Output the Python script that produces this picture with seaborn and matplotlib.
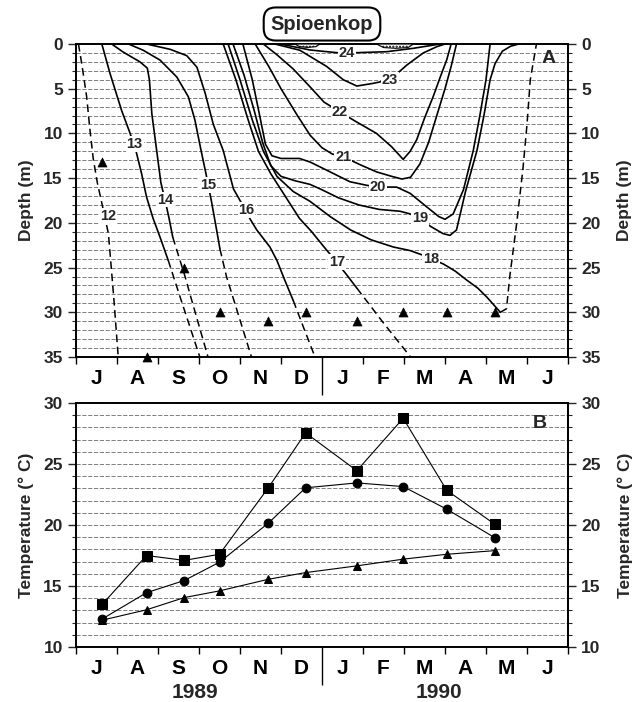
import numpy as np
import pandas as pd
import matplotlib
matplotlib.use("Agg")
import matplotlib.pyplot as plt
import matplotlib.transforms as mtransforms
from matplotlib.ticker import MultipleLocator, FixedLocator
import seaborn as sns

sns.set_style("ticks")
plt.rcParams['font.family'] = ['Liberation Sans', 'DejaVu Sans']
plt.rcParams['font.weight'] = 'bold'
plt.rcParams['axes.labelweight'] = 'bold'

# ---------------- data ----------------
month_labels = ['J', 'A', 'S', 'O', 'N', 'D', 'J', 'F', 'M', 'A', 'M', 'J']
year_labels = ['1989', '1990']

# sampling dates (months after 1 July 1989)
sample_month = [0.64, 1.72, 2.64, 3.50, 4.69, 5.60, 6.85, 7.98, 9.04, 10.22]
# deepest sampling depth (m) on each date (panel A triangles)
sample_depth = [13.2, 35, 25, 30, 31, 30, 31, 30, 30, 30]

# panel B temperatures (deg C)
temp_max = [13.5, 17.5, 17.1, 17.6, 23.05, 27.55, 24.45, 28.75, 22.85, 20.05]
temp_mean = [12.3, 14.45, 15.45, 16.95, 20.15, 23.05, 23.45, 23.15, 21.3, 18.95]
temp_min = [12.2, 13.05, 14.05, 14.6, 15.55, 16.1, 16.65, 17.2, 17.6, 17.9]

# isotherms (month, depth); *_dm/*_dd = interpolated (dashed) parts
iso12_dm = [0.06, 0.14, 0.26, 0.34, 0.42, 0.52, 0.63, 0.79, 0.86, 0.92, 1.03]
iso12_dd = [0, 2.2, 5.9, 9.6, 12.8, 15.5, 17.8, 21.2, 25, 28.3, 35]

iso13_m = [0.63, 0.83, 1.11, 1.32, 1.46, 1.6, 1.72, 1.88, 2.05, 2.25]
iso13_d = [0, 3.3, 7.4, 10, 11.9, 14.5, 17.1, 19.5, 21.6, 24.2]
iso13_dm = [2.25, 2.54, 3.02]
iso13_dd = [24.2, 28.3, 35]

iso14_m = [0.87, 1.15, 1.56, 1.74, 1.79, 1.85, 1.97, 2.07, 2.18, 2.27, 2.36]
iso14_d = [0, 0.9, 2, 2.7, 4, 7.8, 12, 15.5, 17.6, 19.5, 21.6]
iso14_dm = [2.36, 2.66, 2.8, 3.22]
iso14_dd = [21.6, 26, 28.3, 35]

iso15_m = [1.28, 1.64, 2.05, 2.46, 2.74, 2.9, 3.05, 3.17, 3.3, 3.43, 3.51]
iso15_d = [0, 0.7, 1.8, 3.7, 5.9, 8.5, 11.9, 14.5, 17.5, 20.8, 22.9]
iso15_dm = [3.51, 3.67, 3.84, 4.28]
iso15_dd = [22.9, 26, 28.5, 35]

iso16_m = [1.72, 2.3, 2.7, 2.95, 3.15, 3.35, 3.59, 3.84, 4.05, 4.25, 4.41, 4.73, 4.9, 5.1, 5.3]
iso16_d = [0, 0.6, 1.3, 2.6, 5.5, 9, 11.9, 16.2, 17.9, 19.6, 20.8, 22.7, 24.2, 26.5, 28.7]
iso16_dm = [5.3, 5.55, 5.83]
iso16_dd = [28.7, 31.7, 35]

iso17_m = [3.59, 3.9, 4.2, 4.45, 4.75, 5.1, 5.45, 5.75, 6.05, 6.36, 6.6, 6.85]
iso17_d = [0, 4, 8.5, 12, 14.5, 17, 19.5, 21, 22.7, 24.4, 25.8, 27.3]
iso17_dm = [6.85, 7.5, 8.16]
iso17_dd = [27.3, 31.2, 35]

iso18_m = [3.71, 4.0, 4.3, 4.57, 4.9, 5.3, 5.71, 6.2, 6.7, 7.2, 7.74, 8.15, 8.45, 8.66,
           8.96, 9.25, 9.53, 9.8, 10.02, 10.35]
iso18_d = [0, 4, 8.5, 12, 14.8, 16.5, 17.6, 19.3, 20.8, 21.9, 22.7, 23.1, 23.6, 24,
           24.6, 25.4, 26.4, 27.3, 28.3, 30]
iso18_dm = [10.35, 10.5, 10.58, 10.75, 10.9, 11.0, 11.08, 11.23]
iso18_dd = [30, 29.6, 26, 20, 14, 9, 4, 0]

iso19_m = [3.83, 4.1, 4.35, 4.55, 4.75, 5.0, 5.35, 5.71, 6.0, 6.4, 6.9, 7.4, 7.9, 8.15,
           8.39, 8.65, 8.95, 9.12, 9.28, 9.5, 9.78, 9.95, 10.1, 10.22, 10.4, 10.6, 10.8]
iso19_d = [0, 3.5, 7.5, 11, 13.6, 14.8, 15.3, 15.7, 16.3, 17.2, 18.0, 18.5, 18.7, 19.0,
           19.5, 20.4, 21.2, 21.4, 20.8, 16.5, 11.9, 8, 4, 2.2, 0.8, 0.25, 0]

iso20_m = [4.07, 4.3, 4.48, 4.62, 4.78, 5.0, 5.45, 5.71, 6.11, 6.68, 7.09, 7.37, 7.82,
           8.15, 8.55, 8.85, 9.0, 9.2, 9.45, 9.69, 9.85, 10.0, 10.1]
iso20_d = [0, 4, 8, 11.2, 12.5, 12.8, 12.8, 13.2, 14.1, 15.4, 15.8, 16, 16,
           16.7, 18.2, 19.3, 19.6, 19, 16.3, 11.9, 8, 4, 0]

iso21_m = [4.37, 4.7, 5.0, 5.4, 5.71, 6.0, 6.25, 6.52, 6.93, 7.33, 7.7, 7.95, 8.16,
           8.39, 8.6, 8.8, 9.0, 9.15, 9.28]
iso21_d = [0, 2.5, 5, 8, 10.2, 11.6, 12.3, 12.6, 13.5, 14.3, 14.8, 15.1, 14.9,
           13.4, 11, 8, 5, 2.5, 0]

iso22_m = [4.57, 4.9, 5.3, 5.71, 6.05, 6.44, 6.8, 7.33, 7.7, 7.98, 8.15, 8.31, 8.5,
           8.71, 8.9, 9.04, 9.15]
iso22_d = [0, 1.2, 2.8, 4.8, 6.5, 7.6, 8.6, 10, 11.5, 12.9, 12.0, 10.7, 8.3,
           5.9, 3.5, 1.8, 0]

iso23_m = [4.85, 5.46, 6.11, 6.52, 6.85, 7.25, 7.66, 8.07, 8.47, 8.8, 9.0]
iso23_d = [0, 0.7, 2.5, 4.0, 4.7, 4.4, 4.0, 2.35, 1.0, 0.3, 0]

iso24_m = [4.98, 5.71, 6.36, 6.85, 7.58, 8.23, 8.88]
iso24_d = [0, 0.67, 0.97, 0.97, 0.86, 0.48, 0]

# warm surface patches (hatched)
patch1_m = [5.34, 5.45, 5.65, 5.85, 5.95]
patch1_d = [0, 0.3, 0.38, 0.3, 0]
patch2_m = [7.33, 7.5, 7.8, 8.1, 8.23]
patch2_d = [0, 0.4, 0.48, 0.4, 0]

# isotherm labels
iso_label_val = [12, 13, 14, 15, 16, 17, 18, 19, 20, 21, 22, 23, 24]
iso_label_m = [0.79, 1.43, 2.18, 3.23, 4.16, 6.36, 8.66, 8.39, 7.37, 6.52, 6.44, 7.66, 6.6]
iso_label_d = [19.2, 11.2, 17.4, 15.8, 18.6, 24.4, 24.0, 19.5, 16.0, 12.6, 7.6, 4.0, 0.97]

# ---------------- figure ----------------
fig = plt.figure(figsize=(6.38, 7.02), dpi=100)
axA = fig.add_axes([76 / 638, 1 - 357 / 702, 492 / 638, 313 / 702])
axB = fig.add_axes([76 / 638, 1 - 647 / 702, 492 / 638, 244 / 702])

grid_kw = dict(color='#6a6a6a', lw=0.6, ls=(0, (5, 2)))
line_col = 'black'

solid_sets = [(iso13_m, iso13_d), (iso14_m, iso14_d), (iso15_m, iso15_d),
              (iso16_m, iso16_d), (iso17_m, iso17_d), (iso18_m, iso18_d),
              (iso19_m, iso19_d), (iso20_m, iso20_d), (iso21_m, iso21_d),
              (iso22_m, iso22_d), (iso23_m, iso23_d), (iso24_m, iso24_d)]
dashed_sets = [(iso12_dm, iso12_dd), (iso13_dm, iso13_dd), (iso14_dm, iso14_dd),
               (iso15_dm, iso15_dd), (iso16_dm, iso16_dd), (iso17_dm, iso17_dd),
               (iso18_dm, iso18_dd)]

for xm, yd in solid_sets:
    sns.lineplot(x=xm, y=yd, sort=False, estimator=None, color=line_col,
                 lw=1.2, ax=axA, zorder=3)
for xm, yd in dashed_sets:
    sns.lineplot(x=xm, y=yd, sort=False, estimator=None, color=line_col,
                 lw=1.1, ax=axA, zorder=3, linestyle=(0, (5, 3)))

for pm, pd_ in [(patch1_m, patch1_d), (patch2_m, patch2_d)]:
    axA.fill(pm, pd_, facecolor='white', edgecolor='black', hatch='.....',
             lw=0.8, zorder=3)

for v, m, d in zip(iso_label_val, iso_label_m, iso_label_d):
    axA.text(m, d, str(v), ha='center', va='center', fontsize=10.5,
             fontweight='bold', zorder=5,
             bbox=dict(fc='white', ec='none', pad=0.6))

sns.scatterplot(x=sample_month, y=sample_depth, marker='^', color='black',
                s=42, edgecolor='black', ax=axA, zorder=6, clip_on=False)

axA.set_xlim(0, 12)
axA.set_ylim(35, 0)

# panel B
for series, mk, ms in [(temp_max, 's', 6.5), (temp_mean, 'o', 6.3), (temp_min, '^', 6.3)]:
    sns.lineplot(x=sample_month, y=series, marker=mk, markersize=ms, color='black',
                 markeredgecolor='black', lw=0.8, ax=axB, zorder=4, clip_on=False)
axB.set_xlim(0, 12)
axB.set_ylim(10, 30)

# common axes styling
for ax, ymaj, ymin_, lab in [(axA, np.arange(0, 36, 5), np.arange(0, 36, 1), 'Depth (m)'),
                             (axB, np.arange(10, 31, 5), np.arange(10, 31, 1), 'Temperature (° C)')]:
    ax.set_yticks(ymaj)
    ax.yaxis.set_minor_locator(FixedLocator(ymin_))
    ax.set_xticks(np.arange(0, 13, 1))
    ax.set_xticks(np.arange(0.5, 12, 1), minor=True)
    ax.set_xticklabels([])
    ax.set_xticklabels(month_labels, minor=True)
    ax.grid(False)
    ax.grid(True, which='both', axis='y', **grid_kw)
    ax.set_axisbelow(True)
    for s in ax.spines.values():
        s.set_visible(True)
        s.set_linewidth(1.4)
        s.set_color('black')
    ax.tick_params(axis='x', which='major', length=5, width=1.0, direction='out',
                   colors='black')
    ax.tick_params(axis='x', which='minor', length=0, pad=9, labelsize=15,
                   labelcolor='black')
    ax.tick_params(axis='y', which='major', length=6, width=1.0, direction='out',
                   labelsize=12.5, left=True, right=False)
    ax.tick_params(axis='y', which='minor', length=3, width=0.8, direction='out',
                   left=True, right=False)
    ax.xaxis.get_major_ticks()[6].tick1line.set_markersize(27)
    ax.set_xlabel('')
    ax.set_ylabel(lab, fontsize=12.5, fontweight='bold', labelpad=7)
    sec = ax.secondary_yaxis('right')
    sec.set_yticks(ymaj)
    sec.yaxis.set_minor_locator(FixedLocator(ymin_))
    sec.tick_params(axis='y', which='major', length=6, width=1.0, direction='out',
                    labelsize=12.5)
    sec.tick_params(axis='y', which='minor', length=3, width=0.8, direction='out')
    sec.spines['right'].set_linewidth(1.4)
    sec.set_ylabel(lab, fontsize=12.5, fontweight='bold', labelpad=12)

for lbl in axA.get_xticklabels(minor=True) + axB.get_xticklabels(minor=True):
    lbl.set_fontweight('bold')

# year labels
trB = mtransforms.blended_transform_factory(axB.transData, axB.transAxes)
for yl, xc in zip(year_labels, [2.9, 8.85]):
    axB.text(xc, -0.185, yl, transform=trB, ha='center', va='center',
             fontsize=15, fontweight='bold')

axA.text(0.961, 0.954, 'A', transform=axA.transAxes, ha='center', va='center',
         fontsize=14, fontweight='bold', zorder=6)
axB.text(0.943, 0.917, 'B', transform=axB.transAxes, ha='center', va='center',
         fontsize=14, fontweight='bold', zorder=6)

fig.text(322 / 638, 1 - 24 / 702, 'Spioenkop', ha='center', va='center',
         fontsize=14.5, fontweight='bold',
         bbox=dict(boxstyle='round,pad=0.35,rounding_size=0.6', fc='white',
                   ec='black', lw=1.5))

fig.savefig('out.png', dpi=100)
